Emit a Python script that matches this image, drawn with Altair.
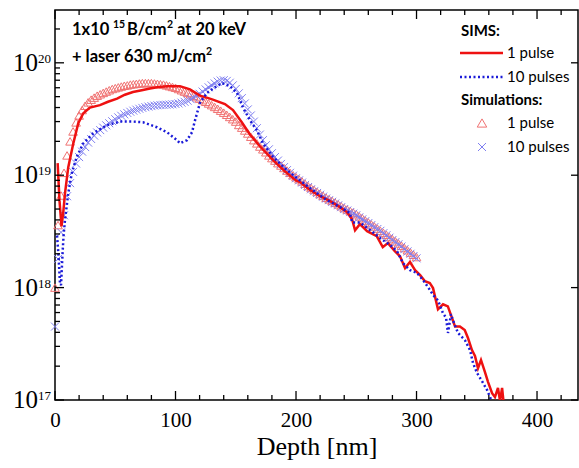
import altair as alt
import pandas as pd

# ---------------- data ----------------
# SIMS, 1 pulse (depth nm, B concentration cm^-3)
sims1_depth = [2.2, 3.7, 5.4, 6.8, 8.3, 11.0, 15.2, 19.3, 23.5, 29.0, 37.3, 44, 51.5, 58, 64.7, 72, 78.8, 86, 93,
               103.7, 112, 120.3, 126, 131, 141, 147.7, 155, 161.8, 170, 182.6, 191, 200, 203.3, 211.6, 220, 228,
               236.5, 242.3, 246.5, 249, 253, 259, 267, 272, 276.3, 282, 286.3, 290.5, 294.6, 298.8, 303, 307, 311,
               313.7, 317.8, 322, 326, 332, 336, 340, 342.7, 346, 348.5, 351, 353.5, 356.8, 359.3, 362.7, 365.1,
               367.6, 369.3, 371, 373]
sims1_conc = [1.28e19, 6.0e18, 3.5e18, 4.6e18, 6.9e18, 1.18e19, 1.92e19, 2.9e19, 3.56e19, 4.0e19, 4.2e19, 4.5e19,
              4.8e19, 5.2e19, 5.5e19, 5.7e19, 5.9e19, 6.1e19, 6.2e19, 6.2e19, 5.8e19, 5.1e19, 4.9e19, 4.7e19,
              4.3e19, 3.8e19, 2.96e19, 2.3e19, 1.81e19, 1.31e19, 1.08e19, 9.0e18, 8.7e18, 7.4e18, 6.5e18, 5.9e18,
              5.2e18, 4.7e18, 4.06e18, 3.24e18, 3.67e18, 3.18e18, 2.87e18, 2.29e18, 2.49e18, 2.11e18, 1.9e18,
              1.49e18, 1.69e18, 1.43e18, 1.29e18, 1.14e18, 1.1e18, 9.9e17, 6.4e17, 7.1e17, 6.8e17, 4.5e17, 4.5e17,
              4.2e17, 3.56e17, 2.78e17, 2.46e17, 1.92e17, 2.27e17, 1.77e17, 1.45e17, 1.15e17, 1.06e17, 1.28e17,
              0.98e17, 1.28e17, 0.8e17]

# SIMS, 10 pulses
sims10_depth = [1.7, 2.9, 4.1, 5.0, 6.2, 7.1, 8.3, 11.0, 13.9, 18.0, 23.5, 31.8, 42.9, 53.9, 64.7, 73, 84.6, 93,
                101.2, 103.7, 109.5, 113.7, 116.2, 120.3, 126.1, 132.8, 138.6, 145.2, 151, 156, 161.8, 167.6,
                172.6, 181, 192.5, 203.3, 217.4, 225.7, 236.5, 244.8, 246.5, 253, 261.4, 270, 278, 283.8, 288.8,
                294.6, 300.4, 305.4, 311.2, 313.7, 317.8, 322, 324.5, 326.1, 328.6, 330.3, 334.4, 340.2, 344.4,
                346.9, 350.2, 352.7, 355.2, 358.5, 361, 362.7]
sims10_conc = [2.9e18, 1.95e18, 1.1e18, 1.05e18, 1.95e18, 2.9e18, 4.0e18, 6.9e18, 1.04e19, 1.45e19, 1.92e19,
               2.36e19, 2.78e19, 3.0e19, 3.0e19, 2.96e19, 2.67e19, 2.41e19, 2.05e19, 1.92e19, 2.05e19, 2.41e19,
               3.08e19, 4.4e19, 5.4e19, 6.05e19, 6.6e19, 6.2e19, 5.4e19, 4.0e19, 3.08e19, 2.5e19, 1.92e19,
               1.45e19, 1.11e19, 9.0e18, 6.9e18, 6.0e18, 5.2e18, 4.6e18, 3.8e18, 3.8e18, 3.25e18, 2.75e18,
               2.39e18, 2.11e18, 1.65e18, 1.43e18, 1.35e18, 1.17e18, 9.5e17, 8.6e17, 7.7e17, 5.9e17, 5.4e17,
               3.95e17, 5.8e17, 5.1e17, 3.95e17, 3.4e17, 2.78e17, 2.13e17, 1.74e17, 1.57e17, 1.42e17, 1.23e17,
               1.06e17, 0.96e17]

# Simulations (common depth grid)
sim_depth = [0, 2.5, 5, 7.5, 10, 12.5, 15, 17.5, 20, 22.5,
             25, 27.5, 30, 32.5, 35, 37.5, 40, 42.5, 45, 47.5,
             50, 52.5, 55, 57.5, 60, 62.5, 65, 67.5, 70, 72.5,
             75, 77.5, 80, 82.5, 85, 87.5, 90, 92.5, 95, 97.5,
             100, 102.5, 105, 107.5, 110, 112.5, 115, 117.5, 120, 122.5,
             125, 127.5, 130, 132.5, 135, 137.5, 140, 142.5, 145, 147.5,
             150, 152.5, 155, 157.5, 160, 162.5, 165, 167.5, 170, 172.5,
             175, 177.5, 180, 182.5, 185, 187.5, 190, 192.5, 195, 197.5,
             200, 202.5, 205, 207.5, 210, 212.5, 215, 217.5, 220, 222.5,
             225, 227.5, 230, 232.5, 235, 237.5, 240, 242.5, 245, 247.5,
             250, 252.5, 255, 257.5, 260, 262.5, 265, 267.5, 270, 272.5,
             275, 277.5, 280, 282.5, 285, 287.5, 290, 292.5, 295, 297.5,
             300]
sim1_conc = [1.0e18, 3.6e18, 6.6e18, 1.05e19, 1.5e19, 2.0e19, 2.45e19, 2.95e19, 3.4e19, 3.8e19,
             4.15e19, 4.45e19, 4.7e19, 4.9e19, 5.1e19, 5.25e19, 5.4e19, 5.55e19, 5.7e19, 5.85e19,
             5.95e19, 6.05e19, 6.15e19, 6.25e19, 6.3e19, 6.4e19, 6.45e19, 6.5e19, 6.55e19, 6.6e19,
             6.6e19, 6.6e19, 6.6e19, 6.55e19, 6.5e19, 6.45e19, 6.4e19, 6.3e19, 6.2e19, 6.1e19,
             6.0e19, 5.85e19, 5.7e19, 5.55e19, 5.4e19, 5.25e19, 5.1e19, 4.95e19, 4.8e19, 4.65e19,
             4.5e19, 4.35e19, 4.2e19, 4.05e19, 3.9e19, 3.75e19, 3.6e19, 3.45e19, 3.3e19, 3.15e19,
             3.0e19, 2.8e19, 2.65e19, 2.5e19, 2.35e19, 2.2e19, 2.05e19, 1.92e19, 1.8e19, 1.7e19,
             1.6e19, 1.5e19, 1.42e19, 1.35e19, 1.28e19, 1.22e19, 1.16e19, 1.1e19, 1.05e19, 1.0e19,
             9.6e18, 9.2e18, 8.8e18, 8.4e18, 8.0e18, 7.7e18, 7.4e18, 7.1e18, 6.8e18, 6.55e18,
             6.3e18, 6.1e18, 5.9e18, 5.7e18, 5.5e18, 5.3e18, 5.1e18, 4.95e18, 4.8e18, 4.65e18,
             4.5e18, 4.3e18, 4.15e18, 3.95e18, 3.8e18, 3.65e18, 3.5e18, 3.35e18, 3.2e18, 3.07e18,
             2.95e18, 2.82e18, 2.7e18, 2.58e18, 2.47e18, 2.36e18, 2.25e18, 2.15e18, 2.05e18, 1.96e18,
             1.87e18]
sim10_conc = [4.5e17, 1.8e18, 3.1e18, 4.4e18, 6.5e18, 8.5e18, 1.07e19, 1.27e19, 1.45e19, 1.62e19,
              1.78e19, 1.95e19, 2.1e19, 2.25e19, 2.4e19, 2.52e19, 2.65e19, 2.78e19, 2.9e19, 3.02e19,
              3.15e19, 3.27e19, 3.38e19, 3.48e19, 3.58e19, 3.67e19, 3.75e19, 3.83e19, 3.9e19, 3.97e19,
              4.03e19, 4.08e19, 4.12e19, 4.16e19, 4.19e19, 4.21e19, 4.23e19, 4.24e19, 4.25e19, 4.27e19,
              4.3e19, 4.35e19, 4.42e19, 4.5e19, 4.6e19, 4.75e19, 4.92e19, 5.1e19, 5.3e19, 5.55e19,
              5.8e19, 6.05e19, 6.3e19, 6.55e19, 6.8e19, 6.95e19, 7.0e19, 6.9e19, 6.65e19, 6.3e19,
              5.85e19, 5.35e19, 4.85e19, 4.35e19, 3.85e19, 3.4e19, 3.0e19, 2.62e19, 2.3e19, 2.05e19,
              1.85e19, 1.7e19, 1.57e19, 1.45e19, 1.35e19, 1.26e19, 1.18e19, 1.11e19, 1.05e19, 9.9e18,
              9.4e18, 9.0e18, 8.6e18, 8.2e18, 7.85e18, 7.5e18, 7.2e18, 6.95e18, 6.7e18, 6.45e18,
              6.2e18, 6.0e18, 5.8e18, 5.6e18, 5.4e18, 5.2e18, 5.0e18, 4.85e18, 4.7e18, 4.55e18,
              4.4e18, 4.22e18, 4.05e18, 3.9e18, 3.75e18, 3.6e18, 3.45e18, 3.32e18, 3.2e18, 3.05e18,
              2.92e18, 2.78e18, 2.65e18, 2.54e18, 2.43e18, 2.32e18, 2.2e18, 2.1e18, 2.0e18, 1.91e18,
              1.82e18]

# axis ticks / labels
x_major = [0, 100, 200, 300, 400]
x_minor = [20, 40, 60, 80, 120, 140, 160, 180, 220, 240, 260, 280, 320, 340, 360, 380, 420]
y_decades = [1e17, 1e18, 1e19, 1e20]
y_exponents = ["17", "18", "19", "20"]
y_minor = [2e17, 3e17, 4e17, 5e17, 6e17, 7e17, 8e17, 9e17,
           2e18, 3e18, 4e18, 5e18, 6e18, 7e18, 8e18, 9e18,
           2e19, 3e19, 4e19, 5e19, 6e19, 7e19, 8e19, 9e19, 2e20]

# ---------------- chart ----------------
W, H = 523, 390
SERIF = "Liberation Serif"
SANS = "Lato"
RED = "#ee1111"
BLUE = "#1a1ad8"
TRI = "#f07272"
XCOL = "#7f7ff0"
X_PATH = "M-1,-1L1,1M-1,1L1,-1"

xscale = alt.Scale(domain=[0, 434], nice=False, zero=False)
yscale = alt.Scale(type="log", domain=[1e17, 2.95e20], nice=False)
xaxis = alt.Axis(values=x_major, format="d", ticks=False, domain=False, grid=False,
                 labelFont=SERIF, labelFontSize=21, labelColor="black", labelPadding=9,
                 labelFlush=False, labelOverlap=False,
                 title="Depth [nm]", titleFont=SERIF, titleFontSize=26, titleFontWeight="normal",
                 titleColor="black", titlePadding=3)


def X(field="depth"):
    return alt.X(f"{field}:Q", scale=xscale, axis=xaxis)


def Y(field="conc"):
    return alt.Y(f"{field}:Q", scale=yscale, axis=None)


df_s1 = pd.DataFrame({"depth": sims1_depth, "conc": sims1_conc})
df_s10 = pd.DataFrame({"depth": sims10_depth, "conc": sims10_conc})
df_m1 = pd.DataFrame({"depth": sim_depth, "conc": sim1_conc})
df_m10 = pd.DataFrame({"depth": sim_depth, "conc": sim10_conc})

tri = alt.Chart(df_m1).mark_point(shape="triangle-up", filled=False, size=75, strokeWidth=1,
                                  color=TRI, opacity=1).encode(x=X(), y=Y())
xs = alt.Chart(df_m10).mark_point(shape=X_PATH, filled=False, size=64, strokeWidth=1,
                                  color=XCOL, opacity=1).encode(x=X(), y=Y())
line1 = alt.Chart(df_s1).mark_line(color=RED, strokeWidth=2.5, clip=True).encode(x=X(), y=Y())
line10 = alt.Chart(df_s10).mark_line(color=BLUE, strokeWidth=2.5, strokeDash=[2, 2.5], strokeCap="butt",
                                     clip=True).encode(x=X(), y=Y())

# inward ticks
df_xmaj = pd.DataFrame({"t": x_major})
df_xmin = pd.DataFrame({"t": x_minor})
df_ydec = pd.DataFrame({"v": y_decades, "e": y_exponents})
df_ymin = pd.DataFrame({"v": y_minor})

ticks = [
    alt.Chart(df_xmaj).mark_rule(color="black", strokeWidth=1.3).encode(x=X("t"), y=alt.value(H), y2=alt.value(H - 9)),
    alt.Chart(df_xmin).mark_rule(color="black", strokeWidth=1.3).encode(x=X("t"), y=alt.value(H), y2=alt.value(H - 5)),
    alt.Chart(df_xmaj).mark_rule(color="black", strokeWidth=1.3).encode(x=X("t"), y=alt.value(0), y2=alt.value(9)),
    alt.Chart(df_xmin).mark_rule(color="black", strokeWidth=1.3).encode(x=X("t"), y=alt.value(0), y2=alt.value(5)),
    alt.Chart(df_ydec).mark_rule(color="black", strokeWidth=1.3).encode(y=Y("v"), x=alt.value(0), x2=alt.value(9)),
    alt.Chart(df_ymin).mark_rule(color="black", strokeWidth=1.3).encode(y=Y("v"), x=alt.value(0), x2=alt.value(5)),
    alt.Chart(df_ydec).mark_rule(color="black", strokeWidth=1.3).encode(y=Y("v"), x=alt.value(W), x2=alt.value(W - 7)),
]

ylab_base = alt.Chart(df_ydec).mark_text(text="10", font=SERIF, fontSize=25, align="right", baseline="middle",
                                         color="black").encode(y=Y("v"), x=alt.value(-17))
ylab_exp = alt.Chart(df_ydec).mark_text(font=SERIF, fontSize=13, align="left", baseline="top", dy=-10,
                                        color="black").encode(y=Y("v"), x=alt.value(-17), text="e:N")

one = alt.Data(values=[{}])


def label(txt, px, py, size=15, bold=False, align="left"):
    return alt.Chart(one).mark_text(text=txt, font=SANS, fontSize=size,
                                    fontWeight="bold" if bold else "normal", align=align,
                                    baseline="middle", color="black").encode(
        x=alt.value(px), y=alt.value(py))


annot = [
    label("1x10", 17, 19.5, size=16.5, bold=True),
    label("15", 58, 15, size=10.5, bold=True),
    label("B/cm", 72, 19.5, size=16.5, bold=True),
    label("2", 112, 15, size=10.5, bold=True),
    label("at 20 keV", 122, 19.5, size=16.5, bold=True),
    label("+ laser 630 mJ/cm", 17, 46.5, size=16.5, bold=True),
    label("2", 151, 42, size=10.5, bold=True),
    label("SIMS:", 406, 21, bold=True),
    label("1 pulse", 452, 43),
    label("10 pulses", 452, 67),
    label("Simulations:", 406, 90, bold=True),
    label("1 pulse", 452, 113),
    label("10 pulses", 452, 137),
]

leg = [
    alt.Chart(one).mark_rule(color=RED, strokeWidth=2.5).encode(
        x=alt.value(405), x2=alt.value(448), y=alt.value(43)),
    alt.Chart(one).mark_rule(color=BLUE, strokeWidth=2.5, strokeDash=[2, 2.5], strokeCap="butt").encode(
        x=alt.value(405), x2=alt.value(448), y=alt.value(67)),
    alt.Chart(one).mark_point(shape="triangle-up", filled=False, size=90, strokeWidth=1, color=TRI,
                              opacity=1).encode(x=alt.value(427), y=alt.value(113)),
    alt.Chart(one).mark_point(shape=X_PATH, filled=False, size=64, strokeWidth=1, color=XCOL,
                              opacity=1).encode(x=alt.value(427), y=alt.value(137)),
]

chart = alt.layer(tri, xs, line1, line10, *ticks, ylab_base, ylab_exp, *annot, *leg).properties(
    width=W, height=H,
    autosize=alt.AutoSizeParams(type="none"),
    padding={"left": 55, "top": 10, "right": 1, "bottom": 68},
    background="white",
).configure_view(stroke="black", strokeWidth=1.5)

chart.save("out.html", embed_options={"renderer": "svg", "actions": False})
